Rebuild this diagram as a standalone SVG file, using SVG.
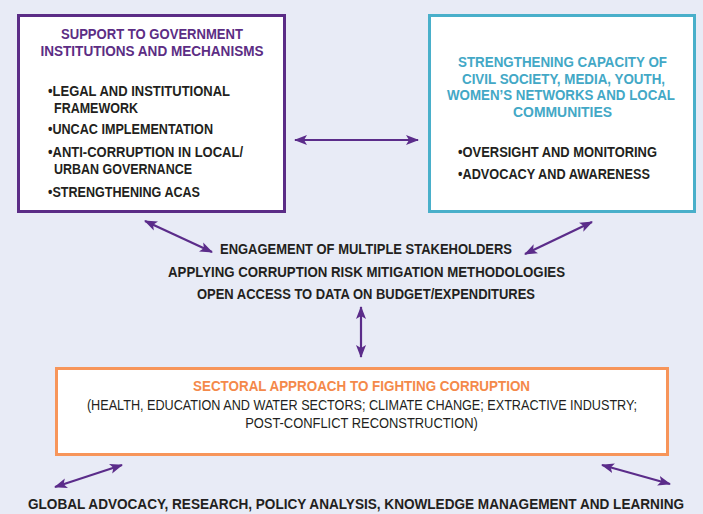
<svg xmlns="http://www.w3.org/2000/svg" width="703" height="514" viewBox="0 0 703 514">
<style>
text{font-family:"Liberation Sans Narrow","Liberation Sans",Arial,sans-serif;font-weight:bold;font-size:14.5px;fill:#231f20;}
.c{text-anchor:middle;}
.tp{fill:#5c2d84;}
.tt{fill:#43a8c6;}
.to{fill:#f4894a;}
.n{font-weight:normal;}
.box{fill:#ffffff;stroke-width:3;}
.conn line{stroke:#5b2c8a;stroke-width:2.2;marker-start:url(#ah);marker-end:url(#ah);}
</style>
<defs>
<marker id="ah" markerUnits="userSpaceOnUse" markerWidth="13" markerHeight="11" refX="12" refY="5" orient="auto-start-reverse" viewBox="0 0 13 10">
<path d="M0,0 L13,5 L0,10 L3,5 z" fill="#5b2c8a"/>
</marker>
</defs>
<rect x="0" y="0" width="703" height="514" fill="#e8ebf6"/>
<g id="gov">
<rect class="box" x="18.5" y="15.5" width="266" height="196" stroke="#5b2c86"/>
<text class="c tp" x="152" y="38.5" textLength="182" lengthAdjust="spacingAndGlyphs">SUPPORT TO GOVERNMENT</text>
<text class="c tp" x="152" y="55.5" textLength="223" lengthAdjust="spacingAndGlyphs">INSTITUTIONS AND MECHANISMS</text>
<text x="48" y="95.5" textLength="182" lengthAdjust="spacingAndGlyphs">•LEGAL AND INSTITUTIONAL</text>
<text x="54" y="112.5" textLength="84" lengthAdjust="spacingAndGlyphs">FRAMEWORK</text>
<text x="48" y="133.5" textLength="165" lengthAdjust="spacingAndGlyphs">•UNCAC IMPLEMENTATION</text>
<text x="48" y="157" textLength="195" lengthAdjust="spacingAndGlyphs">•ANTI-CORRUPTION IN LOCAL/</text>
<text x="54" y="173.5" textLength="138" lengthAdjust="spacingAndGlyphs">URBAN GOVERNANCE</text>
<text x="48" y="197" textLength="152" lengthAdjust="spacingAndGlyphs">•STRENGTHENING ACAS</text>
</g>
<g id="civil">
<rect class="box" x="429.5" y="15.5" width="265" height="196" stroke="#49afca"/>
<text class="c tt" x="562.5" y="67" textLength="209" lengthAdjust="spacingAndGlyphs">STRENGTHENING CAPACITY OF</text>
<text class="c tt" x="563.5" y="83.5" textLength="203" lengthAdjust="spacingAndGlyphs">CIVIL SOCIETY, MEDIA, YOUTH,</text>
<text class="c tt" x="561" y="100" textLength="228" lengthAdjust="spacingAndGlyphs">WOMEN’S NETWORKS AND LOCAL</text>
<text class="c tt" x="562.5" y="117" textLength="99" lengthAdjust="spacingAndGlyphs">COMMUNITIES</text>
<text x="458" y="157" textLength="199" lengthAdjust="spacingAndGlyphs">•OVERSIGHT AND MONITORING</text>
<text x="458" y="178.5" textLength="192" lengthAdjust="spacingAndGlyphs">•ADVOCACY AND AWARENESS</text>
</g>
<g id="center">
<text class="c" x="366" y="253.5" textLength="292" lengthAdjust="spacingAndGlyphs">ENGAGEMENT OF MULTIPLE STAKEHOLDERS</text>
<text class="c" x="366.5" y="276.5" textLength="397" lengthAdjust="spacingAndGlyphs">APPLYING CORRUPTION RISK MITIGATION METHODOLOGIES</text>
<text class="c" x="366" y="299" textLength="338" lengthAdjust="spacingAndGlyphs">OPEN ACCESS TO DATA ON BUDGET/EXPENDITURES</text>
</g>
<g id="sectoral">
<rect class="box" x="56.5" y="368.5" width="611" height="86" stroke="#f7955a"/>
<text class="c to" x="361.5" y="390.5" textLength="337" lengthAdjust="spacingAndGlyphs">SECTORAL APPROACH TO FIGHTING CORRUPTION</text>
<text class="c n" transform="translate(362,410) scale(0.84,1)" x="0" y="0" textLength="655" lengthAdjust="spacingAndGlyphs">(HEALTH, EDUCATION AND WATER SECTORS; CLIMATE CHANGE; EXTRACTIVE INDUSTRY;</text>
<text class="c n" transform="translate(361.5,428) scale(0.84,1)" x="0" y="0" textLength="277" lengthAdjust="spacingAndGlyphs">POST-CONFLICT RECONSTRUCTION)</text>
</g>
<g id="global">
<text class="c" transform="translate(356,509) scale(0.84,1)" x="0" y="0" textLength="781" lengthAdjust="spacingAndGlyphs">GLOBAL ADVOCACY, RESEARCH, POLICY ANALYSIS, KNOWLEDGE MANAGEMENT AND LEARNING</text>
</g>
<g id="connectors" class="conn">
<line x1="295" y1="140" x2="418" y2="140"/>
<line x1="145" y1="221" x2="212" y2="252"/>
<line x1="525" y1="254" x2="592" y2="222"/>
<line x1="361" y1="307" x2="361" y2="357"/>
<line x1="55" y1="487" x2="122" y2="465"/>
<line x1="602" y1="465" x2="670" y2="484"/>
</g>
</svg>
